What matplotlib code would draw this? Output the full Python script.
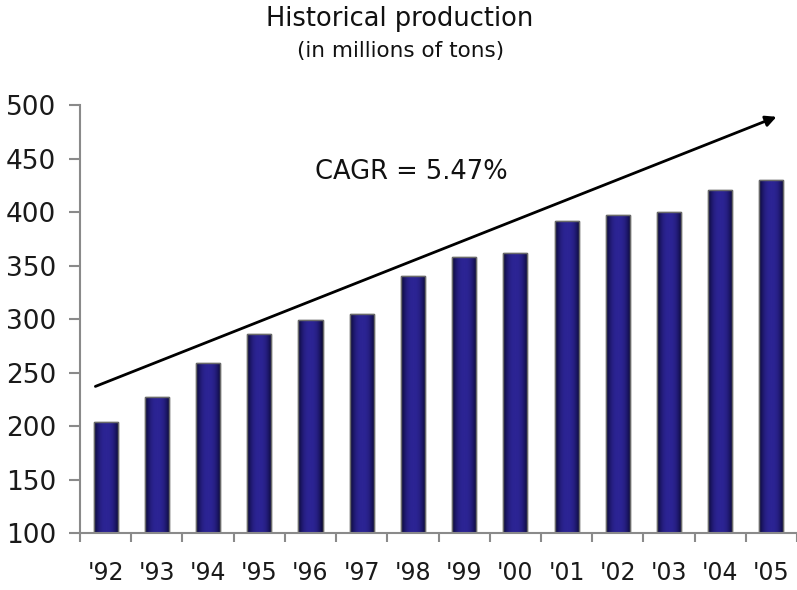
"""Historical production bar chart with CAGR trend arrow."""

import matplotlib
matplotlib.use("Agg")
import matplotlib.pyplot as plt
import numpy as np
from matplotlib.colors import LinearSegmentedColormap

years = ["'92", "'93", "'94", "'95", "'96", "'97", "'98",
         "'99", "'00", "'01", "'02", "'03", "'04", "'05"]
production = [204, 227, 259, 286, 299, 305, 340,
              358, 362, 392, 397, 400, 421, 430]
y_ticks = [100, 150, 200, 250, 300, 350, 400, 450, 500]
cagr_label = "CAGR = 5.47%"

plt.rcParams["font.family"] = ["DejaVu Sans"]

fig = plt.figure(figsize=(7.97, 5.90), dpi=100)
ax = fig.add_axes([0.1004, 0.0966, 0.8996, 0.7254])

x = np.arange(len(years))
width = 0.47
ax.set_ylim(100, 500)
bars = ax.bar(x, production, width, color="#221c80", edgecolor="#707070",
              linewidth=1.0, zorder=2)

# cylindrical shading: dark edges, lighter middle
shade = np.abs(np.linspace(-1, 1, 64))
grad = np.array([1 - shade ** 2.5])
cmap = LinearSegmentedColormap.from_list("barshade", ["#08062e", "#2c2494"])
y_floor = ax.get_ylim()[0]
for bar in bars:
    bx = bar.get_x()
    img = ax.imshow(grad, cmap=cmap, aspect="auto", zorder=2.5,
                    extent=(bx, bx + bar.get_width(), y_floor,
                            bar.get_y() + bar.get_height()))
    img.set_clip_path(bar)
    # redraw outline over the shading
    ax.bar(bar.get_x() + bar.get_width() / 2, bar.get_height(), bar.get_width(),
           fill=False, edgecolor="#6a6a6a", linewidth=1.0, zorder=2.6)

ax.set_xlim(-0.5, len(years) - 0.5)
ax.set_ylim(100, 500)
ax.set_yticks(y_ticks)
ax.set_xticks(x)
ax.set_xticklabels(years)
ax.set_xticks(np.arange(len(years) + 1) - 0.5, minor=True)

for side in ["top", "right"]:
    ax.spines[side].set_visible(False)
for side in ["left", "bottom"]:
    ax.spines[side].set_color("#8a8a8a")
    ax.spines[side].set_linewidth(1.5)
    ax.spines[side].set_zorder(4)

ax.tick_params(axis="y", direction="out", length=8, width=1.5, color="#8a8a8a",
               labelsize=19, pad=9, labelcolor="#1a1a1a")
ax.tick_params(axis="x", which="major", length=0, labelsize=17, pad=20,
               labelcolor="#1a1a1a")
ax.tick_params(axis="x", which="minor", direction="out", length=6.5, width=1.5,
               color="#8a8a8a")

ax.annotate("", xy=(13.1, 489), xytext=(-0.2, 237),
            arrowprops=dict(arrowstyle="-|>", color="black", lw=2,
                            mutation_scale=16, shrinkA=0, shrinkB=0),
            annotation_clip=False, zorder=3)
ax.text(5.96, 437, cagr_label, ha="center", va="center", fontsize=18.5,
        color="#111111")

fig.text(0.502, 0.968, "Historical production", ha="center", va="center",
         fontsize=18.5, color="#111111")
fig.text(0.502, 0.914, "(in millions of tons)", ha="center", va="center",
         fontsize=15.5, color="#111111")

fig.savefig("out.png", dpi=100)
